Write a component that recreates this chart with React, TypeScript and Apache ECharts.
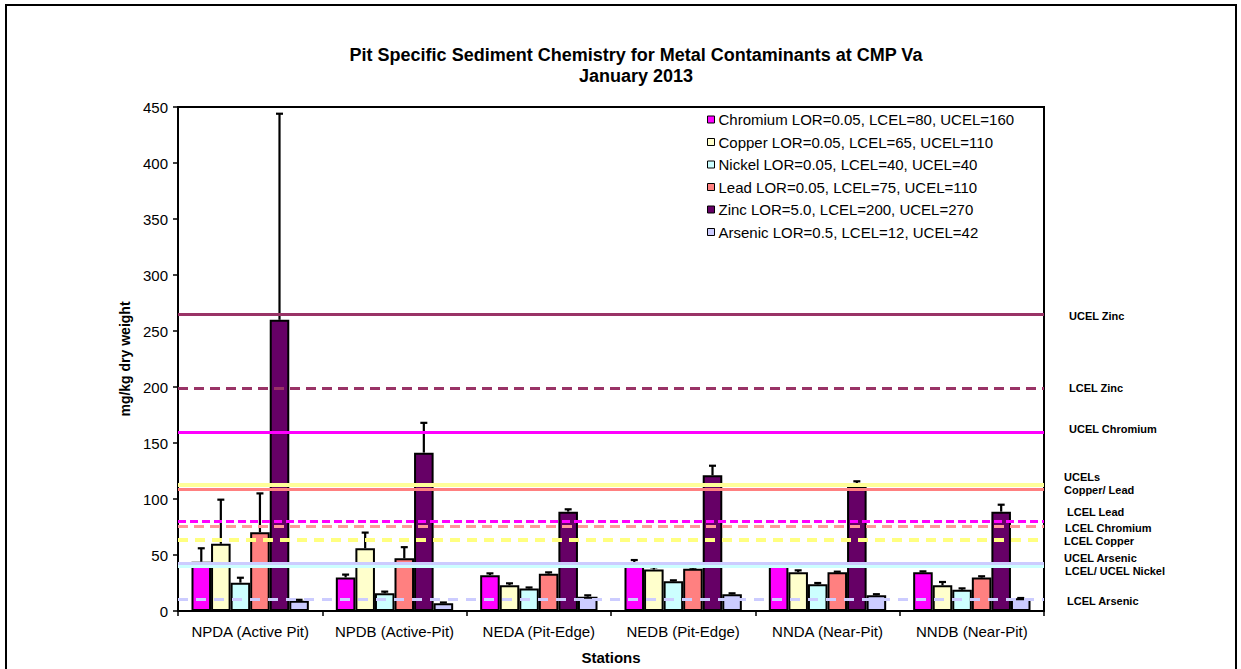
import React, { useEffect, useRef } from "react";
import * as echarts from "echarts";

const stations = [
  "NPDA (Active Pit)",
  "NPDB (Active-Pit)",
  "NEDA (Pit-Edge)",
  "NEDB (Pit-Edge)",
  "NNDA (Near-Pit)",
  "NNDB (Near-Pit)",
];

const seriesNames = [
  "Chromium LOR=0.05, LCEL=80, UCEL=160",
  "Copper LOR=0.05, LCEL=65, UCEL=110",
  "Nickel LOR=0.05, LCEL=40, UCEL=40",
  "Lead LOR=0.05, LCEL=75, UCEL=110",
  "Zinc LOR=5.0, LCEL=200, UCEL=270",
  "Arsenic LOR=0.5, LCEL=12, UCEL=42",
];

const chromium = [44, 30, 32, 42, 40.5, 34.6];
const copper = [60, 56, 23, 37, 34.6, 23];
const nickel = [25.3, 15.8, 20.2, 26.5, 23.8, 19];
const lead = [70.3, 47, 33.3, 37.8, 34.6, 29.8];
const zinc = [260, 141.4, 88.7, 121.1, 111.6, 88.7];
const arsenic = [9.2, 7, 12.8, 14.9, 14, 11.3];

const chromiumErr = [12, 2.5, 1.6, 3.5, 1.5, 0.8];
const copperErr = [39.4, 14, 1.7, 2, 1.7, 2.9];
const nickelErr = [4.4, 1.5, 0.8, 0.9, 1.2, 1.2];
const leadErr = [34.7, 10, 1.2, 0.9, 0.5, 1.2];
const zincErr = [184, 26.6, 2.1, 8.6, 4.2, 6.2];
const arsenicErr = [0.8, 0.6, 1.2, 0.9, 1, 0.3];

const yTicks = [0, 50, 100, 150, 200, 250, 300, 350, 400, 450];

const refNames = [
  "UCEL Zinc",
  "LCEL Zinc",
  "UCEL Chromium",
  "UCEL Copper",
  "UCEL Lead",
  "LCEL Chromium",
  "LCEL Lead",
  "LCEL Copper",
  "UCEL Arsenic",
  "LCEL/ UCEL Nickel",
  "LCEL Arsenic",
];
const refValues = [265, 199, 160, 113, 109, 80.5, 75.5, 64, 42.5, 40, 10.5];

const sideLabels = [
  "UCEL Zinc",
  "LCEL Zinc",
  "UCEL Chromium",
  "UCELs",
  "Copper/ Lead",
  "LCEL Lead",
  "LCEL Chromium",
  "LCEL Copper",
  "UCEL Arsenic",
  "LCEL/ UCEL Nickel",
  "LCEL Arsenic",
];

const FONT = "'Liberation Sans', Arial, sans-serif";

export default function App() {
  const ref = useRef<HTMLDivElement>(null);

  useEffect(() => {
    document.body.style.margin = "0";
    const chart = echarts.init(ref.current!, null, { renderer: "svg" });

    const colors = ["#FF00FF", "#FFFFCC", "#CCFFFF", "#FF8080", "#660066", "#CCCCFF"];
    const values = [chromium, copper, nickel, lead, zinc, arsenic];
    const errs = [chromiumErr, copperErr, nickelErr, leadErr, zincErr, arsenicErr];
    const gap = 0.187;

    const refStyles: any[] = [
      { color: "#993366", width: 3, type: "solid" },
      { color: "#993366", width: 3, type: [10, 6] },
      { color: "#FF00FF", width: 3, type: "solid" },
      { color: "#FFFF99", width: 4, type: "solid" },
      { color: "#FF8080", width: 3, type: "solid" },
      { color: "#FF00FF", width: 3, type: [8, 4] },
      { color: "#FF9999", width: 3, type: [10, 6] },
      { color: "#FFFF80", width: 4, type: [10, 7] },
      { color: "#CCCCFF", width: 4, type: "solid" },
      { color: "#CCFFFF", width: 3, type: "solid" },
      { color: "#CCCCFF", width: 3, type: [10, 8] },
    ];

    const errData: any[] = [];
    values.forEach((arr, s) => {
      arr.forEach((v, c) => {
        errData.push([c, s, v, v + errs[s][c]]);
      });
    });

    const sideY = [316, 388, 429, 477, 490, 512, 528, 541, 558, 571, 601];
    const sideX = [1069, 1069, 1069, 1064, 1064, 1067, 1065, 1064, 1064, 1065, 1067];

    const series: any[] = values.map((arr, i) => ({
      name: seriesNames[i],
      type: "bar",
      data: arr,
      barGap: "0%",
      barCategoryGap: gap * 100 + "%",
      itemStyle: { color: colors[i], borderColor: "#000", borderWidth: 2 },
      z: 2,
    }));

    series.push({
      name: "refs",
      type: "line",
      data: stations.map(() => null),
      symbol: "none",
      silent: true,
      z: 3,
      markLine: {
        silent: true,
        symbol: ["none", "none"],
        label: { show: false },
        animation: false,
        data: refValues.map((v, i) => ({
          name: refNames[i],
          yAxis: v,
          lineStyle: refStyles[i],
        })),
      },
    });

    series.push({
      name: "errors",
      type: "custom",
      z: 4,
      silent: true,
      data: errData,
      encode: { x: 0, y: 3 },
      renderItem: (params: any, api: any) => {
        const cat = api.value(0);
        const s = api.value(1);
        const v = api.value(2);
        const top = api.value(3);
        const c = api.coord([cat, v]);
        const t = api.coord([cat, top]);
        const band = api.size([1, 0])[0];
        const groupW = band * (1 - gap);
        const bw = groupW / 6;
        const x = c[0] - groupW / 2 + (s + 0.5) * bw;
        return {
          type: "group",
          children: [
            {
              type: "line",
              shape: { x1: x, y1: c[1], x2: x, y2: t[1] },
              style: { stroke: "#000", lineWidth: 2.2 },
            },
            {
              type: "line",
              shape: { x1: x - 3.5, y1: t[1], x2: x + 3.5, y2: t[1] },
              style: { stroke: "#000", lineWidth: 2.2 },
            },
          ],
        };
      },
    });

    chart.setOption({
      animation: false,
      backgroundColor: "#fff",
      textStyle: { fontFamily: FONT },
      title: {
        text: "Pit Specific Sediment Chemistry for Metal Contaminants at CMP Va\nJanuary 2013",
        left: 631,
        top: 39,
        textAlign: "center",
        textStyle: { fontSize: 18, fontWeight: "bold", color: "#000", lineHeight: 21, fontFamily: FONT },
      },
      legend: {
        data: seriesNames,
        orient: "vertical",
        left: 702,
        top: 107,
        itemWidth: 7,
        itemHeight: 7,
        itemGap: 7.5,
        icon: "rect",
        itemStyle: { borderColor: "#000", borderWidth: 1 },
        textStyle: { fontSize: 15, color: "#000", fontFamily: FONT, padding: [0, 0, 0, -1] },
        selectedMode: false,
      },
      grid: {
        left: 178,
        top: 107,
        width: 866,
        height: 504,
        show: true,
        borderColor: "#000",
        borderWidth: 2,
        backgroundColor: "#fff",
        containLabel: false,
        outerBoundsMode: "none",
      },
      xAxis: {
        type: "category",
        data: stations,
        name: "Stations",
        nameLocation: "middle",
        nameGap: 39,
        nameTextStyle: { fontSize: 15, fontWeight: "bold", color: "#000", fontFamily: FONT },
        axisLine: { lineStyle: { color: "#000", width: 2 } },
        axisTick: { show: true, length: 5, lineStyle: { color: "#000", width: 1.5 } },
        axisLabel: { fontSize: 15, color: "#000", margin: 13, interval: 0, fontFamily: FONT },
      },
      yAxis: {
        type: "value",
        min: yTicks[0],
        max: yTicks[yTicks.length - 1],
        interval: 50,
        name: "mg/kg dry weight",
        nameLocation: "middle",
        nameGap: 42,
        nameRotate: 90,
        nameTextStyle: { fontSize: 14, fontWeight: "bold", color: "#000", fontFamily: FONT },
        axisLine: { show: true, lineStyle: { color: "#000", width: 2 } },
        axisTick: { show: true, length: 5, lineStyle: { color: "#000", width: 1.5 } },
        axisLabel: { fontSize: 15, color: "#000", margin: 10, fontFamily: FONT },
        splitLine: { show: false },
      },
      graphic: [
        {
          type: "rect",
          shape: { x: 6, y: 5, width: 1230, height: 700 },
          style: { fill: "none", stroke: "#000", lineWidth: 2 },
          silent: true,
          z: -1,
        },
        ...sideLabels.map((t, i) => ({
          type: "text",
          x: sideX[i],
          y: sideY[i],
          style: {
            text: t,
            fill: "#000",
            font: `bold 11px ${FONT}`,
            textVerticalAlign: "middle",
          },
          silent: true,
        })),
      ],
      series,
    });

    return () => chart.dispose();
  }, []);

  return <div ref={ref} style={{ width: 1241, height: 669 }} />;
}
